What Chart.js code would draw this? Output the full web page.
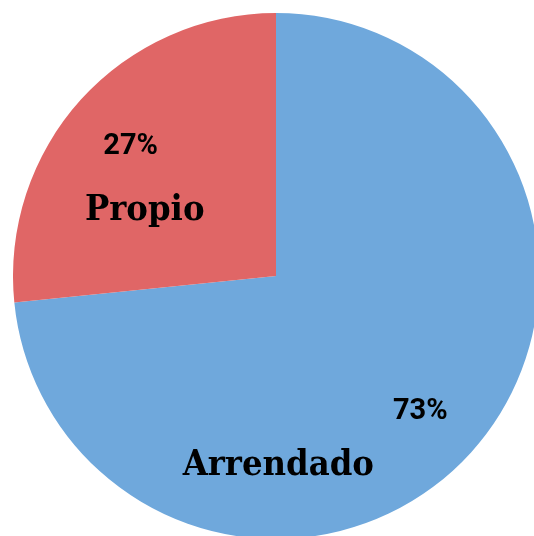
<!DOCTYPE html>
<html>
<head>
<meta charset="utf-8">
<script src="https://cdn.jsdelivr.net/npm/chart.js@4"></script>
<style>
  html, body { margin: 0; padding: 0; background: #fff; overflow: hidden; }
  body { width: 534px; height: 536px; position: relative; }
  #wrap { position: absolute; left: 13px; top: 13px; width: 526px; height: 526px; }
</style>
</head>
<body>
<div id="wrap"><canvas id="pieChart"></canvas></div>
<script>
// datos: tenencia
const categorias = ['Arrendado', 'Propio'];
const porcentajes = [73.4, 26.6];
const colores = ['#6fa8dc', '#e06666'];

// etiquetas dentro de cada tajada
const etiquetasPlugin = {
  id: 'etiquetas',
  afterDatasetsDraw(chart, args, opts) {
    const ctx = chart.ctx;
    const meta = chart.getDatasetMeta(0);
    meta.data.forEach((arc, i) => {
      const p = arc.getProps(['x', 'y', 'startAngle', 'endAngle', 'outerRadius'], true);
      const mid = (p.startAngle + p.endAngle) / 2;
      const r = p.outerRadius * opts.radio;
      const pc = opts.pctOffsets[i];
      const px = p.x + Math.cos(mid) * r + pc[0];
      const py = p.y + Math.sin(mid) * r + pc[1];
      ctx.save();
      ctx.fillStyle = '#000';
      ctx.textAlign = 'center';
      ctx.textBaseline = 'alphabetic';
      ctx.font = 'bold 29px Roboto';
      ctx.fillText(Math.round(porcentajes[i]) + '%', px, py);
      const off = opts.offsets[i];
      ctx.font = 'bold 36px "DejaVu Serif Condensed", "DejaVu Serif"';
      ctx.fillText(categorias[i], px + off[0], py + off[1]);
      ctx.restore();
    });
  }
};

const ctx = document.getElementById('pieChart').getContext('2d');
const pieChart = new Chart(ctx, {
  type: 'pie',
  data: {
    labels: categorias,
    datasets: [{
      data: porcentajes,
      backgroundColor: colores,
      borderWidth: 0
    }]
  },
  options: {
    responsive: true,
    maintainAspectRatio: false,
    animation: false,
    layout: { padding: 0 },
    plugins: {
      legend: { display: false },
      tooltip: { enabled: false },
      etiquetas: {
        radio: 0.75,
        pctOffsets: [[-2, 11], [1, 10]],
        offsets: [[-142, 56], [14, 66]]
      }
    }
  },
  plugins: [etiquetasPlugin]
});
</script>
</body>
</html>
